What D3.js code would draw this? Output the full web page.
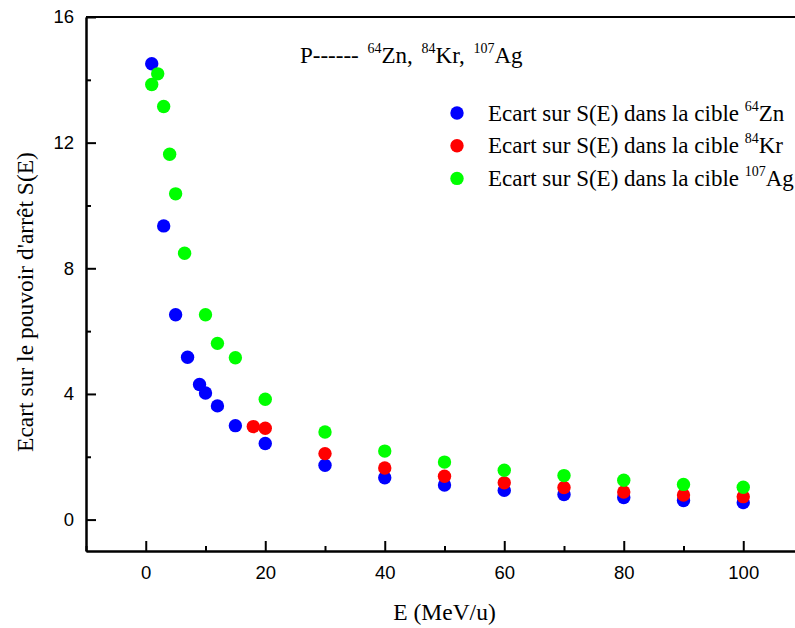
<!DOCTYPE html>
<html>
<head>
<meta charset="utf-8">
<script src="https://cdn.jsdelivr.net/npm/d3@7"></script>
<style>
  body { margin: 0; background: #fff; }
  svg { display: block; }
  .tick text { font-family: "Liberation Sans", Arial, sans-serif; font-size: 18.5px; fill: #000; }
</style>
</head>
<body>
<div id="chart"></div>
<script>
// energies (MeV/u) and deviations on S(E)
const eZn = [1, 3, 5, 7, 9, 10, 12, 15, 20, 30, 40, 50, 60, 70, 80, 90, 100];
const sZn = [14.51, 9.35, 6.52, 5.17, 4.30, 4.03, 3.62, 2.99, 2.42, 1.73, 1.33, 1.10, 0.93, 0.80, 0.70, 0.61, 0.54];
const eKr = [18, 20, 30, 40, 50, 60, 70, 80, 90, 100];
const sKr = [2.96, 2.91, 2.10, 1.64, 1.38, 1.17, 1.02, 0.88, 0.78, 0.73];
const eAg = [1, 2, 3, 4, 5, 6.5, 10, 12, 15, 20, 30, 40, 50, 60, 70, 80, 90, 100];
const sAg = [13.85, 14.19, 13.15, 11.63, 10.37, 8.48, 6.52, 5.61, 5.15, 3.83, 2.79, 2.18, 1.83, 1.57, 1.40, 1.25, 1.12, 1.03];

const xTicks = [0, 20, 40, 60, 80, 100];
const xMinor = [-10, 10, 30, 50, 70, 90];
const yTicks = [0, 4, 8, 12, 16];
const yMinor = [2, 6, 10, 14];

const targets = [
    {mass: "64", name: "Zn", color: "#0000ff", e: eZn, s: sZn},
    {mass: "84", name: "Kr", color: "#ff0000", e: eKr, s: sKr},
    {mass: "107", name: "Ag", color: "#00ff00", e: eAg, s: sAg}
];

const serif = "'Liberation Serif', 'Times New Roman', Times, serif";

const width = 795;
const height = 628;
const margin = {top: 17, right: -8, bottom: 77, left: 86};

const x = d3.scaleLinear()
    .domain([-10, 110])
    .range([margin.left, width - margin.right]);
const y = d3.scaleLinear()
    .domain([-1, 16])
    .range([height - margin.bottom, margin.top]);

const svg = d3.select("#chart").append("svg")
    .attr("width", width)
    .attr("height", height);

// minor ticks first, then major axes with labels
svg.append("g")
    .attr("transform", `translate(0,${y(-1)})`)
    .call(d3.axisBottom(x).tickValues(xMinor).tickSize(-5).tickSizeOuter(0).tickFormat(""));
svg.append("g")
    .attr("transform", `translate(${x(-10)},0)`)
    .call(d3.axisLeft(y).tickValues(yMinor).tickSize(-5).tickSizeOuter(0).tickFormat(""));

svg.append("g")
    .attr("transform", `translate(0,${y(-1)})`)
    .call(d3.axisBottom(x).tickValues(xTicks).tickSize(-10).tickSizeOuter(0).tickPadding(15));
svg.append("g")
    .attr("transform", `translate(${x(-10)},0)`)
    .call(d3.axisLeft(y).tickValues(yTicks).tickSize(-10).tickSizeOuter(0).tickPadding(12));

svg.selectAll(".domain, .tick line")
    .attr("stroke", "#000")
    .attr("stroke-width", 2);

// top frame line
svg.append("line")
    .attr("x1", x(-10)).attr("x2", x(110))
    .attr("y1", y(16)).attr("y2", y(16))
    .attr("stroke", "#000")
    .attr("stroke-width", 2);

// points
targets.forEach(t => {
    svg.append("g")
        .selectAll("circle")
        .data(t.e.map((e, i) => [e, t.s[i]]))
        .join("circle")
        .attr("cx", d => x(d[0]))
        .attr("cy", d => y(d[1]))
        .attr("r", 6.7)
        .attr("fill", t.color);
});

// axis titles
svg.append("text")
    .style("font-family", serif)
    .attr("x", (x(-10) + x(110)) / 2)
    .attr("y", 620)
    .attr("text-anchor", "middle")
    .style("font-size", "23.5px")
    .text("E (MeV/u)");

svg.append("text")
    .style("font-family", serif)
    .attr("transform", "translate(33,302) rotate(-90)")
    .attr("text-anchor", "middle")
    .style("font-size", "23.5px")
    .text("Ecart sur le pouvoir d'arrêt S(E)");

// title with isotopes
const title = svg.append("text")
    .style("font-family", serif)
    .attr("x", 300)
    .attr("y", 63)
    .style("font-size", "23px");
title.append("tspan").text("P------ ");
targets.forEach((t, i) => {
    title.append("tspan").attr("dx", 3).attr("dy", -10).style("font-size", "14px").text(t.mass);
    title.append("tspan").attr("dy", 10).text(t.name + (i < targets.length - 1 ? ", " : ""));
});

// legend
const legend = svg.append("g")
    .selectAll("g")
    .data(targets)
    .join("g")
    .attr("transform", (d, i) => `translate(457,${113 + i * 32.7})`);
legend.append("circle")
    .attr("r", 6.7)
    .attr("fill", d => d.color);
const lt = legend.append("text")
    .style("font-family", serif)
    .attr("x", 31)
    .attr("y", 7.5)
    .style("font-size", "23px");
lt.append("tspan").text("Ecart sur S(E) dans la cible ");
lt.append("tspan").attr("dy", -10).style("font-size", "14px").text(d => d.mass);
lt.append("tspan").attr("dy", 10).text(d => d.name);
</script>
</body>
</html>
